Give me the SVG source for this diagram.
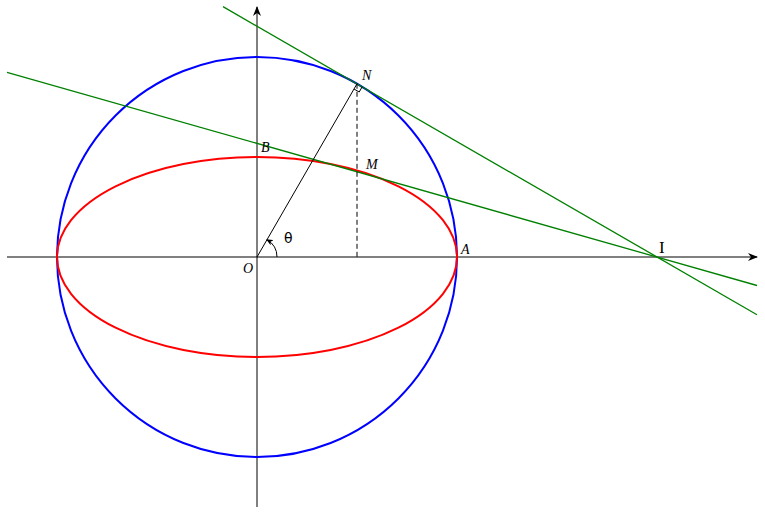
<svg xmlns="http://www.w3.org/2000/svg" width="765" height="515" viewBox="0 0 765 515">
<style>
.ax{stroke:#000;stroke-width:1;fill:none}
.lbl{font-family:"Liberation Serif",serif;font-style:italic;font-size:14px;fill:#000}
.up{font-family:"Liberation Serif",serif;font-size:17px;fill:#000}
.tg{stroke:#008000;stroke-width:1.3;fill:none}
</style>
<defs>
<marker id="arr" markerWidth="10" markerHeight="8" refX="9" refY="4" orient="auto" markerUnits="userSpaceOnUse">
<path d="M0,0 L10,4 L0,8 L3,4 Z" fill="#000"/>
</marker>
<marker id="arrs" markerWidth="7" markerHeight="6" refX="6" refY="3" orient="auto" markerUnits="userSpaceOnUse">
<path d="M0,0 L7,3 L0,6 L2,3 Z" fill="#000"/>
</marker>
</defs>
<rect width="765" height="515" fill="#fff"/>
<g id="axes">
<line class="ax" x1="7" y1="257" x2="757" y2="257" marker-end="url(#arr)"/>
<line class="ax" x1="257" y1="507" x2="257" y2="7" marker-end="url(#arr)"/>
</g>
<g id="circle"><circle cx="257" cy="257" r="200" fill="none" stroke="#0000ff" stroke-width="2"/></g>
<g id="ellipse"><ellipse cx="257" cy="257" rx="200" ry="100" fill="none" stroke="#ff0000" stroke-width="2"/></g>
<g id="connectors">
<line class="tg" x1="223" y1="6.6" x2="757" y2="314.7"/>
<line class="tg" x1="7" y1="72.3" x2="757" y2="285.5"/>
<line class="ax" x1="257" y1="257" x2="357" y2="83.8" stroke-width="1.3"/>
<line class="ax" x1="357" y1="83.8" x2="357" y2="257" stroke-dasharray="5,3" stroke-width="1.2"/>
<path class="ax" d="M354,89 L359.2,92 L362.2,86.8"/>
<path class="ax" d="M277,257 A20,20 0 0 0 267,239.7" stroke-width="1.2" marker-end="url(#arrs)"/>
</g>
<g id="labels">
<text class="lbl" x="362" y="80">N</text>
<text class="lbl" x="366" y="169">M</text>
<text class="lbl" x="261" y="152">B</text>
<text class="lbl" x="461" y="254">A</text>
<text class="lbl" x="243" y="273">O</text>
<text x="284" y="243" font-family="DejaVu Sans,sans-serif" font-size="14" fill="#000">θ</text>
<text class="up" x="659" y="253">I</text>
</g>
</svg>
